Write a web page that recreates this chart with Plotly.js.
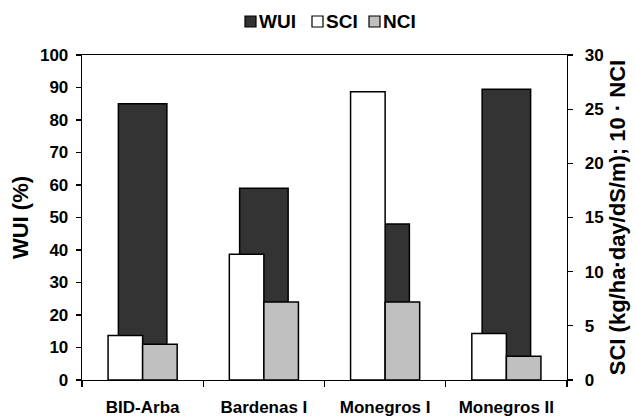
<!DOCTYPE html>
<html>
<head>
<meta charset="utf-8">
<script src="https://cdn.plot.ly/plotly-3.0.1.min.js"></script>
<style>html,body{margin:0;padding:0;background:#fff;}#chart{width:636px;height:418px;}</style>
</head>
<body>
<div id="chart"></div>
<script>
const categories = ["BID-Arba", "Bardenas I", "Monegros I", "Monegros II"];
const wuiValues = [85, 59, 48, 89.5];
const sciValues = [4.1, 11.6, 26.6, 4.3];
const nciValues = [3.3, 7.2, 7.2, 2.2];
const leftTicks = [0, 10, 20, 30, 40, 50, 60, 70, 80, 90, 100];
const rightTicks = [0, 5, 10, 15, 20, 25, 30];
const seriesNames = ["WUI", "SCI", "NCI"];
const seriesColors = ["#333333", "#ffffff", "#c0c0c0"];

const FONT = "Liberation Sans, Arial, sans-serif";
const lineStyle = {color: "#000", width: 1.5};

const traces = [
  {type: "bar", name: seriesNames[0], x: categories, y: wuiValues, yaxis: "y",
   offset: -0.2, width: 0.4,
   marker: {color: seriesColors[0], line: lineStyle}, hoverinfo: "skip"},
  {type: "bar", name: seriesNames[1], x: categories, y: sciValues, yaxis: "y2",
   offset: -0.285, width: 0.285,
   marker: {color: seriesColors[1], line: lineStyle}, hoverinfo: "skip"},
  {type: "bar", name: seriesNames[2], x: categories, y: nciValues, yaxis: "y2",
   offset: 0, width: 0.285,
   marker: {color: seriesColors[2], line: lineStyle}, hoverinfo: "skip"}
];

// Compact legend (swatch + label) drawn above the plot, like the original
const plotL = 82, plotW = 485, plotB = 380, plotH = 325;
const px2x = p => (p - plotL) / plotW;
const px2y = p => (plotB - p) / plotH;
const legendSwatchLeft = [245, 312, 369];
const shapes = [], annotations = [];
seriesNames.forEach((nm, i) => {
  const l = legendSwatchLeft[i];
  shapes.push({type: "rect", xref: "paper", yref: "paper",
    x0: px2x(l), x1: px2x(l + 11), y0: px2y(27), y1: px2y(16),
    fillcolor: seriesColors[i], line: {color: "#000", width: 1.2}});
  annotations.push({xref: "paper", yref: "paper", x: px2x(l + 12), y: px2y(21.5),
    xanchor: "left", yanchor: "middle", showarrow: false, text: nm,
    font: {family: FONT, size: 19, weight: "bold", color: "#000"}});
});

const layout = {
  width: 636, height: 418,
  margin: {l: 82, r: 69, t: 55, b: 38, autoexpand: false},
  paper_bgcolor: "#fff", plot_bgcolor: "#fff",
  barmode: "overlay",
  font: {family: FONT, color: "#000", size: 17, weight: "bold"},
  showlegend: false,
  shapes: shapes,
  annotations: annotations,
  xaxis: {type: "category", range: [-0.5, 3.5], showline: true, linecolor: "#000", linewidth: 1.3,
          mirror: true, ticks: "outside", tickson: "boundaries", ticklen: 6, tickcolor: "#000",
          tickwidth: 1.2, showgrid: false, zeroline: false, ticklabelstandoff: 11,
          tickfont: {family: FONT, size: 17, weight: "bold", color: "#000"}},
  yaxis: {range: [0, 100], tickvals: leftTicks, ticks: "outside", ticklen: 5, tickcolor: "#000",
          tickwidth: 1.2, showline: true, linecolor: "#000", linewidth: 1.3, showgrid: false,
          zeroline: false, ticklabelstandoff: 4,
          tickfont: {family: FONT, size: 17, weight: "bold", color: "#000"},
          title: {text: "WUI (%)", standoff: 5, font: {family: FONT, size: 22, weight: "bold", color: "#000"}}},
  yaxis2: {range: [0, 30], tickvals: rightTicks, overlaying: "y", side: "right", anchor: "x",
           ticks: "outside", ticklen: 5, tickcolor: "#000", tickwidth: 1.2,
           showline: true, linecolor: "#000", linewidth: 1.3, showgrid: false, zeroline: false,
           ticklabelstandoff: 8,
           tickfont: {family: FONT, size: 17, weight: "bold", color: "#000"},
           title: {text: "SCI (kg/ha·day/dS/m); 10 · NCI", standoff: 7,
                   font: {family: FONT, size: 22, weight: "bold", color: "#000"}}}
};

Plotly.newPlot("chart", traces, layout, {displayModeBar: false, staticPlot: true});
</script>
</body>
</html>
